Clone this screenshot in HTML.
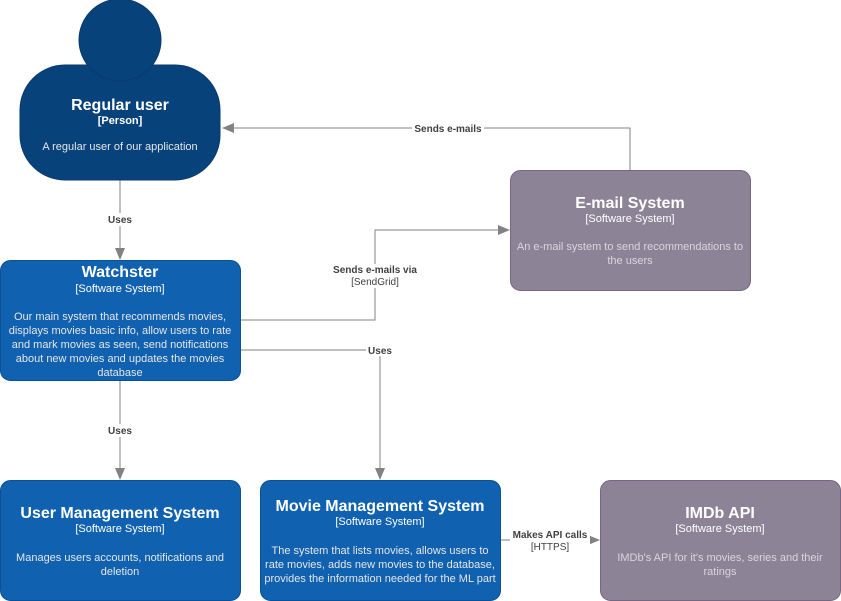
<!DOCTYPE html>
<html><head><meta charset="utf-8"><style>
html,body{margin:0;padding:0;background:#fff;}
svg{display:block;font-family:"Liberation Sans",Arial,sans-serif;}
.t{fill:#fff;font-weight:bold;text-anchor:middle;}
.s{fill:#fff;font-size:11px;text-anchor:middle;}
.d{fill:#e6e6e6;font-size:11px;text-anchor:middle;}
.g{fill:#d9d5de;font-size:11px;text-anchor:middle;}
.l{fill:#404040;font-size:10px;font-weight:bold;text-anchor:middle;}
.ln{fill:#404040;font-size:10px;text-anchor:middle;}
.e{stroke:#828282;stroke-width:1;fill:none;}
.lb{fill:#fff;}
</style></head><body>
<svg width="841" height="601" viewBox="0 0 841 601">
<defs><marker id="a" markerWidth="12" markerHeight="12" refX="10" refY="5" orient="auto" markerUnits="userSpaceOnUse"><path d="M0,0 L12,5 L0,10 Z" fill="#828282"/></marker></defs>
<path class="e" d="M120,180 V258" marker-end="url(#a)"/>
<path class="e" d="M630,170 V128 H224" marker-end="url(#a)"/>
<path class="e" d="M240,320 H375 V230 H508" marker-end="url(#a)"/>
<path class="e" d="M240,350 H380 V478" marker-end="url(#a)"/>
<path class="e" d="M120,380 V478" marker-end="url(#a)"/>
<path class="e" d="M500,540 H598" marker-end="url(#a)"/>
<rect class="lb" x="104" y="213" width="32" height="13"/><text class="l" x="120" y="223">Uses</text>
<rect class="lb" x="412" y="122" width="72" height="12"/><text class="l" x="448" y="132">Sends e-mails</text>
<rect class="lb" x="330" y="264" width="90" height="24"/><text class="l" x="375" y="273">Sends e-mails via</text><text class="ln" x="375" y="285">[SendGrid]</text>
<rect class="lb" x="366" y="344" width="28" height="12"/><text class="l" x="380" y="354">Uses</text>
<rect class="lb" x="104" y="424" width="32" height="13"/><text class="l" x="120" y="434">Uses</text>
<rect class="lb" x="510" y="529" width="80" height="24"/><text class="l" x="550" y="538">Makes API calls</text><text class="ln" x="550" y="550">[HTTPS]</text>
<rect x="20" y="65" width="200" height="115" rx="45" fill="#08427B" stroke="#073B6F"/>
<circle cx="120" cy="40" r="41" fill="#08427B" stroke="#073B6F"/>
<text class="t" x="120" y="110" font-size="16">Regular user</text>
<text class="s" x="120" y="124" style="font-weight:bold">[Person]</text>
<text class="d" x="120" y="150">A regular user of our application</text>
<rect x="0.5" y="260.5" width="240" height="120" rx="10" fill="#1061B0" stroke="#0D5091"/>
<text class="t" x="120" y="277" font-size="16">Watchster</text>
<text class="s" x="120" y="292">[Software System]</text>
<text class="d" x="120" y="320">Our main system that recommends movies,</text>
<text class="d" x="120" y="334">displays movies basic info, allow users to rate</text>
<text class="d" x="120" y="348">and mark movies as seen, send notifications</text>
<text class="d" x="120" y="362">about new movies and updates the movies</text>
<text class="d" x="120" y="376">database</text>
<rect x="510.5" y="170.5" width="240" height="120" rx="10" fill="#8C8496" stroke="#736782"/>
<text class="t" x="630" y="208" font-size="16">E-mail System</text>
<text class="s" x="630" y="222">[Software System]</text>
<text class="g" x="630" y="250">An e-mail system to send recommendations to</text>
<text class="g" x="630" y="264">the users</text>
<rect x="0.5" y="480.5" width="240" height="120" rx="10" fill="#1061B0" stroke="#0D5091"/>
<text class="t" x="120" y="518" font-size="16">User Management System</text>
<text class="s" x="120" y="532">[Software System]</text>
<text class="d" x="120" y="561">Manages users accounts, notifications and</text>
<text class="d" x="120" y="575">deletion</text>
<rect x="260.5" y="480.5" width="240" height="120" rx="10" fill="#1061B0" stroke="#0D5091"/>
<text class="t" x="380" y="511" font-size="16">Movie Management System</text>
<text class="s" x="380" y="525">[Software System]</text>
<text class="d" x="380" y="554">The system that lists movies, allows users to</text>
<text class="d" x="380" y="568">rate movies, adds new movies to the database,</text>
<text class="d" x="380" y="582">provides the information needed for the ML part</text>
<rect x="600.5" y="480.5" width="240" height="120" rx="10" fill="#8C8496" stroke="#736782"/>
<text class="t" x="720" y="518" font-size="16">IMDb API</text>
<text class="s" x="720" y="532">[Software System]</text>
<text class="g" x="720" y="561">IMDb's API for it's movies, series and their</text>
<text class="g" x="720" y="575">ratings</text>
</svg>
</body></html>
